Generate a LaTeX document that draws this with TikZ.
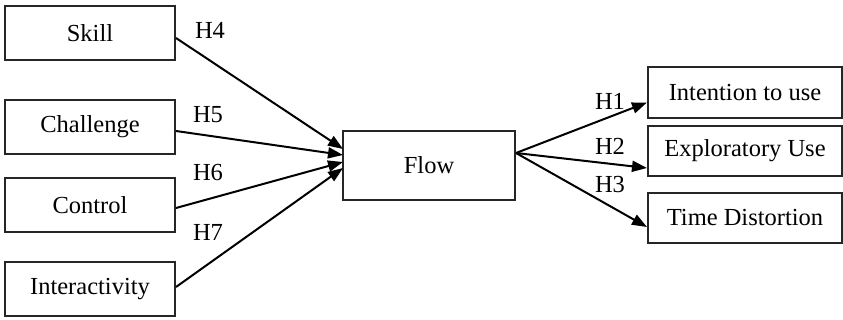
\documentclass[tikz,border=0pt]{standalone}
\usepackage{fontspec}
\setmainfont{Liberation Serif}
\usetikzlibrary{arrows.meta}
\begin{document}
\begin{tikzpicture}[x=1pt,y=-1pt,
  box/.style={draw=black!85,line width=2pt,minimum height=#1,inner sep=0pt,font=\fontsize{24.5}{28}\selectfont},
  box/.default=54pt,
  link/.style={line width=2pt,-{Triangle[length=15pt,width=11pt]}},
  hlab/.style={font=\fontsize{24.5}{28}\selectfont,inner sep=0pt}]
\useasboundingbox (0,0) rectangle (843,320);
% antecedents
\node[box,minimum width=170pt] (skill) at (90,33) {Skill};
\node[box,minimum width=170pt] (chal) at (90,127) {Challenge};
\node[box,minimum width=170pt] (ctrl) at (90,205) {Control};
\node[box,minimum width=170pt] (inter) at (90,289) {Interactivity};
% central construct
\node[box=69pt,minimum width=172pt] (flow) at (429,165.5) {Flow};
% outcomes
\node[box=51pt,minimum width=194pt] (int) at (745,92.5) {Intention to use};
\node[box=50pt,minimum width=194pt] (exp) at (745,151) {Exploratory Use};
\node[box=50pt,minimum width=194pt] (time) at (745,218) {Time Distortion};
% anchor points on the central box
\coordinate (in1) at (343,149);
\coordinate (in2) at (343,155);
\coordinate (in3) at (343,162);
\coordinate (in4) at (343,168);
\coordinate (out) at (516,153);
\draw[link] (skill.east) ++(0,5) -- (in1);
\draw[link] (chal.east) ++(0,4) -- (in2);
\draw[link] (ctrl.east) ++(0,3) -- (in3);
\draw[link] (inter.east) ++(0,-2) -- (in4);
\draw[link] (out) -- ([yshift=-10pt]int.west);
\draw[link] (out) -- ([yshift=-17pt]exp.west);
\draw[link] (out) -- ([yshift=-9pt]time.west);
% hypothesis labels
\node[hlab] (h4) at (210,30) {H4};
\node[hlab] (h5) at (208,115) {H5};
\node[hlab] (h6) at (208,173) {H6};
\node[hlab] (h7) at (208,232) {H7};
\node[hlab] (h1) at (610,101) {H1};
\node[hlab] (h2) at (610,146) {H2};
\node[hlab] (h3) at (610,185) {H3};
\end{tikzpicture}
\end{document}
